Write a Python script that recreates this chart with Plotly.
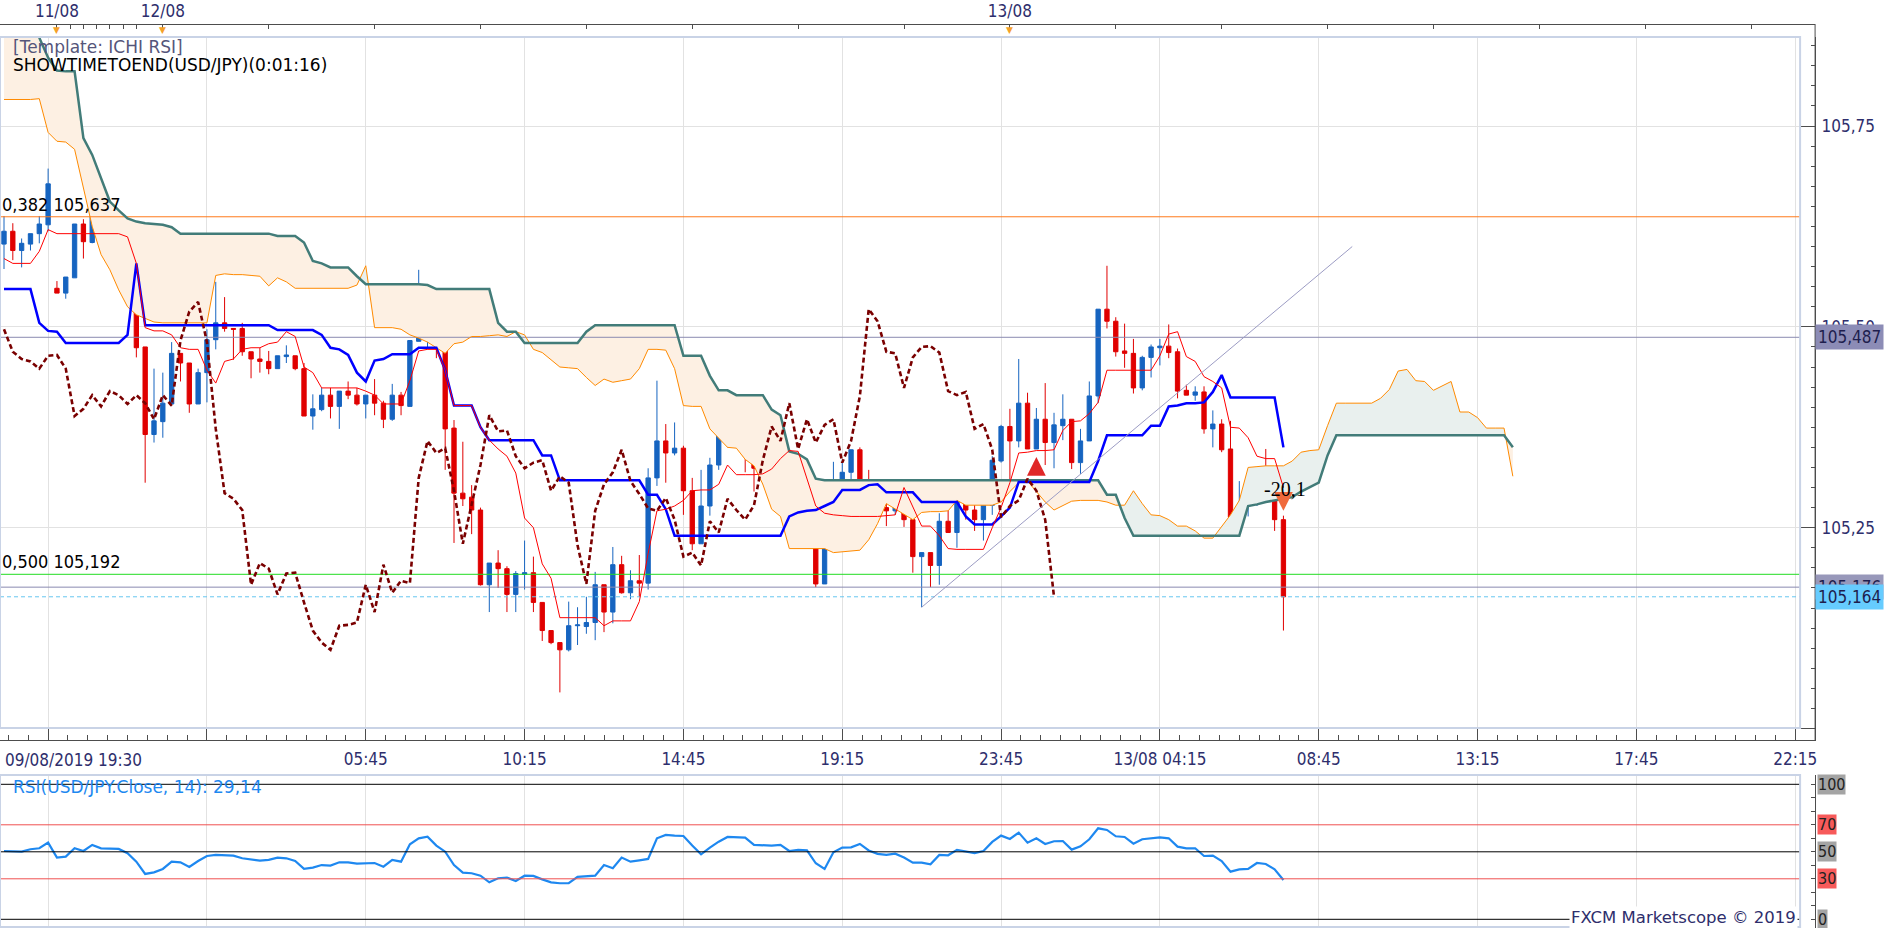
import numpy as np
import plotly.graph_objects as go

# ---------------- data (USD/JPY m15) ----------------
OPEN = [105.603,105.619,105.595,105.603,105.616,105.627,105.548,105.542,105.561,105.628,
        105.605,105.672,105.630,105.641,105.623,105.578,105.475,105.366,105.382,105.404,
        105.467,105.455,105.404,105.443,105.484,105.505,105.498,105.498,105.469,105.460,
        105.457,105.448,105.463,105.464,105.448,105.389,105.397,105.415,105.401,105.420,
        105.415,105.404,105.415,105.405,105.385,105.415,105.401,105.482,105.519,105.531,
        105.482,105.374,105.293,105.288,105.272,105.179,105.206,105.199,105.167,105.192,
        105.194,105.157,105.122,105.107,105.098,105.128,105.127,105.132,105.179,105.145,
        105.204,105.169,105.184,105.181,105.312,105.358,105.343,105.349,105.296,105.230,
        105.277,105.328,105.390,105.370,105.371,105.339,105.324,105.331,105.334,105.296,
        105.314,105.307,105.230,105.180,105.271,105.304,105.319,105.347,105.308,105.292,
        105.275,105.271,105.287,105.260,105.214,105.219,105.203,105.258,105.244,105.286,
        105.272,105.260,105.278,105.333,105.376,105.358,105.405,105.348,105.385,105.356,
        105.377,105.385,105.331,105.358,105.414,105.522,105.507,105.470,105.467,105.424,
        105.462,105.474,105.476,105.469,105.421,105.415,105.419,105.373,105.379,105.348,
        105.263,105.277,105.284,105.311,105.296,105.260]
HIGH = [105.638,105.629,105.610,105.616,105.638,105.697,105.557,105.562,105.628,105.634,
        105.683,105.672,105.654,105.641,105.625,105.579,105.475,105.448,105.443,105.481,
        105.467,105.455,105.448,105.497,105.556,105.537,105.498,105.505,105.469,105.474,
        105.470,105.464,105.477,105.464,105.455,105.416,105.424,105.424,105.420,105.432,
        105.424,105.415,105.435,105.408,105.429,105.419,105.483,105.571,105.535,105.533,
        105.484,105.384,105.357,105.303,105.275,105.206,105.222,105.202,105.196,105.234,
        105.214,105.157,105.122,105.107,105.158,105.151,105.164,105.195,105.179,105.226,
        105.215,105.197,105.216,105.324,105.433,105.379,105.381,105.352,105.312,105.322,
        105.337,105.401,105.391,105.409,105.376,105.345,105.339,105.353,105.356,105.322,
        105.336,105.308,105.257,105.288,105.332,105.335,105.347,105.350,105.322,105.293,
        105.282,105.295,105.300,105.260,105.219,105.219,105.268,105.277,105.293,105.290,
        105.288,105.278,105.339,105.378,105.398,105.460,105.418,105.399,105.430,105.393,
        105.416,105.385,105.373,105.432,105.522,105.576,105.512,105.504,105.485,105.464,
        105.478,105.485,105.503,105.473,105.428,105.426,105.426,105.396,105.385,105.383,
        105.308,105.323,105.323,105.348,105.318,105.265]
LOW = [105.572,105.583,105.574,105.595,105.604,105.619,105.542,105.535,105.561,105.585,
       105.604,105.625,105.597,105.622,105.548,105.462,105.306,105.356,105.362,105.404,
       105.432,105.393,105.404,105.406,105.472,105.494,105.459,105.464,105.436,105.443,
       105.441,105.448,105.455,105.446,105.389,105.372,105.395,105.386,105.373,105.410,
       105.402,105.386,105.390,105.374,105.383,105.390,105.401,105.482,105.472,105.461,
       105.322,105.231,105.277,105.242,105.178,105.145,105.175,105.145,105.145,105.173,
       105.145,105.109,105.105,105.045,105.096,105.104,105.118,105.110,105.120,105.131,
       105.168,105.161,105.164,105.173,105.302,105.306,105.340,105.266,105.222,105.230,
       105.265,105.322,105.350,105.361,105.319,105.295,105.304,105.319,105.292,105.284,
       105.292,105.226,105.176,105.180,105.266,105.281,105.299,105.308,105.292,105.273,
       105.252,105.266,105.251,105.194,105.151,105.176,105.179,105.244,105.225,105.260,
       105.246,105.234,105.266,105.331,105.306,105.350,105.348,105.348,105.328,105.324,
       105.359,105.323,105.317,105.358,105.405,105.498,105.463,105.449,105.417,105.421,
       105.437,105.452,105.461,105.411,105.415,105.408,105.367,105.350,105.344,105.247,
       105.252,105.264,105.277,105.288,105.246,105.122]
CLOSE = [105.619,105.595,105.604,105.616,105.628,105.678,105.542,105.562,105.628,105.606,
         105.672,105.630,105.641,105.622,105.578,105.474,105.366,105.383,105.405,105.467,
         105.455,105.404,105.443,105.484,105.505,105.498,105.497,105.469,105.460,105.457,
         105.448,105.464,105.465,105.448,105.389,105.398,105.415,105.401,105.420,105.415,
         105.404,105.415,105.405,105.385,105.415,105.402,105.483,105.519,105.531,105.481,
         105.373,105.293,105.286,105.272,105.179,105.206,105.199,105.167,105.193,105.194,
         105.157,105.122,105.107,105.098,105.128,105.129,105.132,105.179,105.145,105.204,
         105.169,105.184,105.181,105.312,105.358,105.343,105.349,105.296,105.230,105.277,
         105.328,105.390,105.370,105.371,105.339,105.324,105.331,105.334,105.296,105.314,
         105.306,105.228,105.180,105.271,105.304,105.319,105.347,105.308,105.292,105.274,
         105.271,105.287,105.260,105.214,105.219,105.203,105.258,105.244,105.286,105.272,
         105.260,105.278,105.334,105.376,105.358,105.405,105.348,105.385,105.356,105.378,
         105.385,105.331,105.358,105.414,105.522,105.507,105.469,105.467,105.424,105.462,
         105.475,105.476,105.468,105.420,105.415,105.419,105.373,105.379,105.347,105.263,
         105.277,105.284,105.311,105.296,105.260,105.164]

TENKAN = [105.585,105.579,105.579,105.579,105.594,105.621,105.616,105.616,105.616,105.616,
          105.616,105.616,105.616,105.616,105.612,105.579,105.499,105.495,105.495,105.490,
          105.474,105.472,105.472,105.446,105.430,105.457,105.460,105.472,105.474,105.474,
          105.479,105.481,105.494,105.488,105.450,105.443,105.424,105.424,105.424,105.424,
          105.424,105.420,105.415,105.404,105.404,105.404,105.433,105.470,105.472,105.472,
          105.446,105.402,105.402,105.402,105.375,105.359,105.348,105.339,105.318,105.262,
          105.250,105.205,105.187,105.138,105.138,105.138,105.138,105.138,105.128,105.134,
          105.134,105.134,105.158,105.218,105.271,105.273,105.277,105.284,105.296,105.297,
          105.297,105.304,105.328,105.316,105.316,105.316,105.317,105.323,105.336,105.346,
          105.345,105.311,105.277,105.268,105.266,105.265,105.264,105.264,105.264,105.264,
          105.265,105.266,105.300,105.275,105.252,105.252,105.240,105.224,105.223,105.223,
          105.223,105.223,105.250,105.275,105.306,105.343,105.344,105.346,105.346,105.347,
          105.371,105.382,105.383,105.392,105.406,105.446,105.446,105.446,105.446,105.446,
          105.446,105.464,105.491,105.494,105.463,105.457,105.438,105.432,105.424,105.375,
          105.374,105.362,105.339,105.336,105.336,105.300]
KIJUN = [105.547,105.547,105.547,105.547,105.505,105.495,105.494,105.480,105.480,105.480,
         105.480,105.480,105.480,105.480,105.490,105.579,105.502,105.502,105.502,105.502,
         105.502,105.502,105.502,105.502,105.502,105.502,105.502,105.502,105.502,105.502,
         105.502,105.496,105.496,105.496,105.496,105.496,105.490,105.474,105.472,105.465,
         105.443,105.432,105.458,105.460,105.466,105.466,105.466,105.474,105.474,105.474,
         105.446,105.402,105.402,105.402,105.375,105.359,105.359,105.359,105.359,105.359,
         105.359,105.340,105.340,105.309,105.309,105.309,105.309,105.309,105.309,105.309,
         105.309,105.309,105.309,105.291,105.291,105.273,105.240,105.240,105.240,105.240,
         105.240,105.240,105.240,105.240,105.240,105.240,105.240,105.240,105.240,105.264,
         105.269,105.271,105.272,105.277,105.282,105.297,105.297,105.297,105.303,105.304,
         105.294,105.294,105.294,105.294,105.282,105.282,105.282,105.282,105.282,105.264,
         105.254,105.254,105.254,105.264,105.275,105.307,105.307,105.307,105.307,105.307,
         105.307,105.307,105.307,105.307,105.333,105.365,105.365,105.365,105.365,105.365,
         105.377,105.377,105.401,105.402,105.405,105.405,105.406,105.419,105.440,105.412,
         105.412,105.412,105.412,105.412,105.412,105.350]
SPAN_A = [105.783,105.783,105.783,105.783,105.784,105.742,105.731,105.730,105.721,105.675,
          105.625,105.590,105.571,105.546,105.525,105.515,105.510,105.506,105.505,105.505,
          105.505,105.505,105.505,105.505,105.564,105.566,105.565,105.565,105.564,105.563,
          105.551,105.561,105.556,105.548,105.548,105.548,105.548,105.548,105.548,105.548,
          105.552,105.576,105.499,105.499,105.499,105.497,105.490,105.486,105.481,105.474,
          105.467,105.479,105.481,105.488,105.488,105.489,105.490,105.488,105.494,105.490,
          105.472,105.468,105.459,105.450,105.449,105.448,105.437,105.427,105.435,105.431,
          105.433,105.435,105.448,105.472,105.472,105.471,105.448,105.402,105.401,105.401,
          105.373,105.361,105.350,105.349,105.335,105.327,105.304,105.273,105.264,105.224,
          105.224,105.224,105.224,105.224,105.219,105.220,105.221,105.222,105.235,105.255,
          105.280,105.273,105.266,105.260,105.269,105.270,105.270,105.271,105.284,105.278,
          105.278,105.278,105.278,105.282,105.295,105.306,105.308,105.295,105.282,105.272,
          105.277,105.283,105.284,105.284,105.284,105.282,105.278,105.278,105.296,105.280,
          105.266,105.265,105.260,105.252,105.252,105.246,105.237,105.237,105.251,105.266,
          105.284,105.325,105.326,105.327,105.327,105.327,105.333,105.344,105.346,105.347,
          105.377,105.405,105.405,105.405,105.405,105.405,105.411,105.422,105.445,105.447,
          105.433,105.432,105.421,105.426,105.432,105.394,105.394,105.387,105.374,105.374,
          105.374,105.314]
SPAN_B = [105.900,105.900,105.900,105.900,105.860,105.835,105.819,105.818,105.818,105.735,
          105.714,105.685,105.656,105.645,105.635,105.631,105.629,105.628,105.627,105.624,
          105.616,105.616,105.616,105.616,105.616,105.616,105.616,105.616,105.616,105.616,
          105.616,105.613,105.613,105.613,105.605,105.582,105.579,105.574,105.574,105.574,
          105.563,105.553,105.553,105.553,105.553,105.553,105.553,105.553,105.552,105.547,
          105.547,105.547,105.547,105.547,105.547,105.547,105.505,105.494,105.494,105.480,
          105.480,105.480,105.480,105.480,105.480,105.480,105.494,105.502,105.502,105.502,
          105.502,105.502,105.502,105.502,105.502,105.502,105.502,105.464,105.464,105.464,
          105.439,105.421,105.421,105.415,105.415,105.415,105.415,105.397,105.390,105.345,
          105.342,105.335,105.311,105.309,105.309,105.309,105.309,105.309,105.309,105.309,
          105.309,105.309,105.309,105.309,105.309,105.309,105.309,105.309,105.309,105.309,
          105.309,105.309,105.309,105.309,105.309,105.309,105.309,105.309,105.309,105.309,
          105.309,105.309,105.309,105.309,105.309,105.291,105.291,105.262,105.240,105.240,
          105.240,105.240,105.240,105.240,105.240,105.240,105.240,105.240,105.240,105.240,
          105.240,105.277,105.279,105.282,105.284,105.286,105.288,105.295,105.300,105.306,
          105.340,105.365,105.365,105.365,105.365,105.365,105.365,105.365,105.365,105.365,
          105.365,105.365,105.365,105.365,105.365,105.365,105.365,105.365,105.365,105.365,
          105.365,105.350]
RSI = [50.6,50.1,50.1,51.9,52.6,56.8,45.7,46.4,52.6,50.6,55.1,52.6,52.6,52.1,48.9,42.7,
       33.6,34.8,37.3,42.7,42.2,38.8,43.2,46.9,47.7,47.7,47.2,45.2,44.4,43.5,44.0,45.7,
       45.2,43.2,37.3,38.3,40.2,39.8,42.2,42.2,41.2,41.7,41.7,39.0,44.0,42.7,55.6,60.0,
       61.2,54.6,50.1,40.2,34.6,34.1,32.3,27.4,30.4,30.9,28.4,32.3,32.1,29.6,27.4,26.7,
       26.7,31.4,31.6,32.3,40.2,37.8,45.7,42.7,43.7,44.7,60.0,62.5,62.0,61.7,54.6,48.1,
       53.1,57.5,61.0,60.7,60.5,55.1,54.6,54.6,55.1,50.6,51.4,51.1,41.5,37.3,49.6,53.1,
       53.3,55.8,51.0,48.5,47.7,48.6,45.7,42.0,42.0,40.7,47.7,47.4,51.4,50.4,49.1,50.6,
       57.3,62.0,59.5,64.2,56.8,60.0,55.8,57.8,58.0,51.6,54.1,59.3,67.4,66.2,61.5,61.0,
       56.0,59.3,60.0,60.7,60.0,53.8,52.6,52.6,46.9,47.2,43.2,35.3,37.0,37.3,41.7,41.0,
       37.0,29.14]
CHIKOU_SHIFT = 26

TIME_TICKS = [5, 23, 41, 59, 77, 95, 113, 131, 149, 167, 185, 203]
TIME_LABELS = ["", "", "05:45", "10:15", "14:45", "19:15", "23:45", "13/08 04:15",
               "08:45", "13:15", "17:45", "22:15"]
FIRST_TIME_LABEL = "09/08/2019 19:30"
DATE_TICKS = [6, 18, 114]
DATE_LABELS = ["11/08", "12/08", "13/08"]
HOUR_TICKS = [7.5, 9, 10.5, 12, 13.5, 15, 30, 42, 54, 66, 78, 90, 102, 126, 138, 150,
              162, 174, 186, 198]

PRICE_TICKS = [105.00, 105.25, 105.50, 105.75]
PRICE_LABELS = ["", "105,25", "105,50", "105,75"]

FIB_382 = 105.637
FIB_500 = 105.192
LEVEL_A = 105.487
LEVEL_B = 105.176
LAST_PRICE = 105.164

TREND_X = [104, 152.8]
TREND_Y = [105.151, 105.600]
SIGNAL_UP_TIP = (117, 105.338)
SIGNAL_DOWN_TIP = (145, 105.271)
SIGNAL_TEXT_POS = (145.2, 105.298)
SIGNAL_TEXT = "-20,1"
RSI_LEVELS = [100, 70, 50, 30, 0]
RSI_LEVEL_COLORS = ["#000000", "#F05050", "#000000", "#F05050", "#000000"]
RSI_BOX_COLORS = ["#A4A4A4", "#F75A5A", "#A4A4A4", "#F75A5A", "#A4A4A4"]
RSI_LAST = "29,14"

# ---------------- layout geometry (pixels) ----------------
W, H = 1898, 928
PLOT_R = 1817          # axis line on the right
INNER_R = 1802         # inner panel border
STRIP_Y = 24           # date strip line
MAIN_TOP, MAIN_BOT, INNER_BOT = 37, 740, 728
RSI_TOP = 775
BAR_PITCH, BAR0_X = 8.833, 4.0
PX_PER_UNIT, REF_PRICE, REF_PX = 803.4, 105.75, 126.0
RSI_PX_PER_UNIT, RSI100_PX = 1.35, 784.3

def fx(px):
    return px / W

def fy(px):
    return 1 - px / H

def price_at(px):
    return REF_PRICE - (px - REF_PX) / PX_PER_UNIT

XR = [(0 - BAR0_X) / BAR_PITCH, (PLOT_R - BAR0_X) / BAR_PITCH]
X_INNER = (INNER_R - BAR0_X) / BAR_PITCH
YR = [price_at(MAIN_BOT), price_at(MAIN_TOP)]
RR = [100 - (H - RSI100_PX) / RSI_PX_PER_UNIT, 100 + (RSI100_PX - RSI_TOP) / RSI_PX_PER_UNIT]

FONT_C = "DejaVu Sans Condensed, DejaVu Sans, sans-serif"
FONT = "DejaVu Sans, sans-serif"
NAVY = "#2E2E6C"
AXIS = "#4D4D4D"
GRID = "#E2E2E2"
BLUE_C = "#1664C0"
RED_C = "#E00000"

idx = np.arange(len(CLOSE))

# ---------------- cloud polygons ----------------
A = np.array(SPAN_A)
B = np.array(SPAN_B)
cx, ca, cb = [], [], []
for k in range(len(A)):
    cx.append(k); ca.append(A[k]); cb.append(B[k])
    if k + 1 < len(A):
        d0, d1 = A[k] - B[k], A[k + 1] - B[k + 1]
        if d0 * d1 < 0:
            t = d0 / (d0 - d1)
            v = A[k] + t * (A[k + 1] - A[k])
            cx.append(k + t); ca.append(v); cb.append(v)
ca = np.array(ca); cb = np.array(cb)
lo = np.minimum(ca, cb)

fig = go.Figure()
common = dict(hoverinfo="skip", showlegend=False)

fig.add_trace(go.Scatter(x=cx, y=lo, mode="lines", line=dict(width=0), **common))
fig.add_trace(go.Scatter(x=cx, y=cb, mode="lines", line=dict(width=0), fill="tonexty",
                         fillcolor="#FDF0E3", **common))
fig.add_trace(go.Scatter(x=cx, y=lo, mode="lines", line=dict(width=0), **common))
fig.add_trace(go.Scatter(x=cx, y=ca, mode="lines", line=dict(width=0), fill="tonexty",
                         fillcolor="#E9F0EE", **common))

# horizontal levels
def hline(val, color, dash="solid", width=1):
    fig.add_trace(go.Scatter(x=[XR[0], X_INNER], y=[val, val], mode="lines",
                             line=dict(color=color, width=width, dash=dash), **common))

hline(FIB_382, "#FF7A1A")
hline(LEVEL_A, "#8A8AB0")
hline(FIB_500, "#22DD22")
hline(LEVEL_B, "#8A8AB0")
hline(LAST_PRICE, "#66C6F0", dash="4px,3px")

# candles
fig.add_trace(go.Candlestick(
    x=idx, open=OPEN, high=HIGH, low=LOW, close=CLOSE,
    increasing=dict(line=dict(color=BLUE_C, width=1), fillcolor=BLUE_C),
    decreasing=dict(line=dict(color=RED_C, width=1), fillcolor=RED_C),
    whiskerwidth=0, hoverinfo="skip", showlegend=False))

# ichimoku lines
fig.add_trace(go.Scatter(x=np.arange(len(SPAN_A)), y=SPAN_A, mode="lines",
                         line=dict(color="#FF8A00", width=1), **common))
fig.add_trace(go.Scatter(x=np.arange(len(SPAN_B)), y=SPAN_B, mode="lines",
                         line=dict(color="#427C79", width=2.5), **common))
fig.add_trace(go.Scatter(x=idx, y=KIJUN, mode="lines",
                         line=dict(color="#0000FF", width=2.5), **common))
fig.add_trace(go.Scatter(x=idx, y=TENKAN, mode="lines",
                         line=dict(color="#FF0000", width=1), **common))
fig.add_trace(go.Scatter(x=idx[:-CHIKOU_SHIFT], y=CLOSE[CHIKOU_SHIFT:], mode="lines",
                         line=dict(color="#7A0000", width=2.6, dash="5px,3px"), **common))

# trend line
fig.add_trace(go.Scatter(x=TREND_X, y=TREND_Y, mode="lines",
                         line=dict(color="#9C9CC4", width=1), **common))

# invisible anchor trace so the top date axis is drawn
fig.add_trace(go.Scatter(x=DATE_TICKS, y=[YR[1]] * len(DATE_TICKS), mode="markers",
                         xaxis="x3", yaxis="y", marker=dict(size=1, opacity=0), **common))

# RSI
fig.add_trace(go.Scatter(x=idx, y=RSI, mode="lines", xaxis="x2", yaxis="y2",
                         line=dict(color="#1E88F0", width=2.2), **common))
for lv, col in zip(RSI_LEVELS, RSI_LEVEL_COLORS):
    fig.add_trace(go.Scatter(x=[XR[0], X_INNER], y=[lv, lv], mode="lines", xaxis="x2",
                             yaxis="y2", line=dict(color=col, width=1), **common))

tickfont = dict(family=FONT_C, size=17, color=NAVY)

fig.update_layout(
    width=W, height=H, autosize=False,
    margin=dict(l=0, r=0, t=0, b=0, pad=0),
    paper_bgcolor="white", plot_bgcolor="white",
    font=dict(family=FONT, size=16, color="#000"),
    showlegend=False,
    xaxis=dict(domain=[0, fx(PLOT_R)], range=XR, anchor="y", tickmode="array",
               tickvals=TIME_TICKS, ticktext=TIME_LABELS, ticks="inside", ticklen=12,
               tickcolor=AXIS, showline=True, linecolor=AXIS, linewidth=1,
               showgrid=True, gridcolor=GRID, zeroline=False, tickfont=tickfont,
               ticklabelstandoff=4, rangeslider=dict(visible=False),
               minor=dict(tickmode="linear", tick0=5, dtick=2.25, ticks="inside",
                          ticklen=5, tickcolor=AXIS, showgrid=False)),
    yaxis=dict(domain=[fy(MAIN_BOT), fy(MAIN_TOP)], range=YR, side="right",
               tickmode="array", tickvals=PRICE_TICKS, ticktext=PRICE_LABELS,
               ticks="inside", ticklen=15, tickcolor=AXIS, showline=True,
               linecolor=AXIS, showgrid=True, gridcolor=GRID, zeroline=False,
               tickfont=tickfont, ticklabelstandoff=2,
               minor=dict(tickmode="linear", tick0=105.0, dtick=0.025, ticks="inside",
                          ticklen=4, tickcolor=AXIS, showgrid=False)),
    xaxis2=dict(domain=[0, fx(PLOT_R)], range=XR, anchor="y2", tickmode="array",
                tickvals=TIME_TICKS, showticklabels=False, ticks="", showgrid=True,
                gridcolor=GRID, zeroline=False, showline=False),
    yaxis2=dict(domain=[0, fy(RSI_TOP)], range=RR, side="right", anchor="x2",
                tickmode="linear", tick0=0, dtick=10, ticks="inside", ticklen=4,
                tickcolor=AXIS, showticklabels=False, showgrid=False, zeroline=False,
                showline=True, linecolor=AXIS),
    xaxis3=dict(overlaying="x", range=XR, anchor="free", position=fy(STRIP_Y),
                side="top", tickmode="array", tickvals=DATE_TICKS + HOUR_TICKS,
                ticktext=DATE_LABELS + [""] * len(HOUR_TICKS), ticks="inside",
                ticklen=4, tickcolor=AXIS, showline=True, linecolor=AXIS,
                showgrid=False, zeroline=False, tickfont=tickfont, ticklabelstandoff=0),
)

shapes = [
    dict(type="rect", xref="paper", yref="paper", x0=0, x1=fx(INNER_R),
         y0=fy(INNER_BOT), y1=fy(MAIN_TOP), line=dict(color="#C9D3E6", width=2),
         layer="above"),
    dict(type="rect", xref="paper", yref="paper", x0=0, x1=fx(INNER_R),
         y0=fy(H - 1), y1=fy(RSI_TOP), line=dict(color="#C9D3E6", width=2),
         layer="above"),
    dict(type="line", xref="paper", yref="paper", x0=fx(PLOT_R), x1=fx(PLOT_R),
         y0=fy(MAIN_BOT), y1=fy(STRIP_Y), line=dict(color=AXIS, width=1)),
]
fig.update_layout(shapes=shapes)

ann = []
# date markers on the top strip
for d in DATE_TICKS:
    ann.append(dict(xref="x", yref="paper", x=d, y=fy(STRIP_Y - 1), xanchor="center",
                    yanchor="top", text="▼", showarrow=False,
                    font=dict(family=FONT, size=9, color="#F5A128")))
ann.append(dict(xref="paper", yref="paper", x=fx(11), y=fy(47), xanchor="left",
                yanchor="middle", text="[Template: ICHI RSI]", showarrow=False,
                font=dict(family=FONT, size=17, color="#55557A")))
ann.append(dict(xref="paper", yref="paper", x=fx(11), y=fy(65), xanchor="left",
                yanchor="middle", text="SHOWTIMETOEND(USD/JPY)(0:01:16)", showarrow=False,
                font=dict(family=FONT, size=17, color="#000")))
ann.append(dict(xref="paper", yref="y", x=0, y=FIB_382, xanchor="left", yanchor="bottom",
                text="0,382 " + f"{FIB_382:.3f}".replace(".", ","), showarrow=False,
                font=dict(family=FONT_C, size=18, color="#000")))
ann.append(dict(xref="paper", yref="y", x=0, y=FIB_500, xanchor="left", yanchor="bottom",
                text="0,500 " + f"{FIB_500:.3f}".replace(".", ","), showarrow=False,
                font=dict(family=FONT_C, size=18, color="#000")))
ann.append(dict(xref="paper", yref="paper", x=fx(3), y=fy(760), xanchor="left",
                yanchor="middle", text=FIRST_TIME_LABEL, showarrow=False, font=tickfont))

def price_box(val, bg):
    ann.append(dict(xref="paper", yref="y", x=fx(PLOT_R), y=val, xanchor="left",
                    yanchor="middle", text=f"{val:.3f}".replace(".", ","),
                    showarrow=False, bgcolor=bg, borderpad=2,
                    font=dict(family=FONT_C, size=17, color="#1E1E4E")))

price_box(LEVEL_A, "#8C8CB6")
price_box(LEVEL_B, "#9898BA")
price_box(LAST_PRICE, "#66CCFF")

# signal arrows (block arrows pointing to the tip)
ann.append(dict(xref="x", yref="y", x=SIGNAL_UP_TIP[0], y=SIGNAL_UP_TIP[1], text="",
                showarrow=True, ax=0, ay=16, arrowhead=2, arrowsize=0.75, arrowwidth=5,
                arrowcolor="#E02828", standoff=0))
ann.append(dict(xref="x", yref="y", x=SIGNAL_DOWN_TIP[0], y=SIGNAL_DOWN_TIP[1], text="",
                showarrow=True, ax=0, ay=-16, arrowhead=2, arrowsize=0.75, arrowwidth=5,
                arrowcolor="#F06A3C", standoff=0))
ann.append(dict(xref="x", yref="y", x=SIGNAL_TEXT_POS[0], y=SIGNAL_TEXT_POS[1],
                text=SIGNAL_TEXT, showarrow=False, xanchor="center", yanchor="middle",
                font=dict(family="Liberation Serif, serif", size=20, color="#000")))

ann.append(dict(xref="paper", yref="paper", x=fx(11), y=fy(787), xanchor="left",
                yanchor="middle", text="RSI(USD/JPY.Close, 14): " + RSI_LAST,
                showarrow=False, font=dict(family=FONT, size=17, color="#1E88F0")))
for lv, bg in zip(RSI_LEVELS, RSI_BOX_COLORS):
    ann.append(dict(xref="paper", yref="y2", x=fx(PLOT_R + 2), y=lv, xanchor="left",
                    yanchor="middle", text=str(lv), showarrow=False, bgcolor=bg,
                    borderpad=0, font=dict(family=FONT_C, size=16, color="#222")))
ann.append(dict(xref="paper", yref="paper", x=fx(INNER_R - 2), y=fy(917), xanchor="right",
                yanchor="middle", text="FXCM Marketscope © 2019", showarrow=False,
                bgcolor="white", font=dict(family=FONT, size=16.5, color=NAVY)))
fig.update_layout(annotations=ann)

fig.write_html("out.html", config={"displayModeBar": False},
               post_script="document.body.style.margin='0px';document.body.style.overflow='hidden';")
